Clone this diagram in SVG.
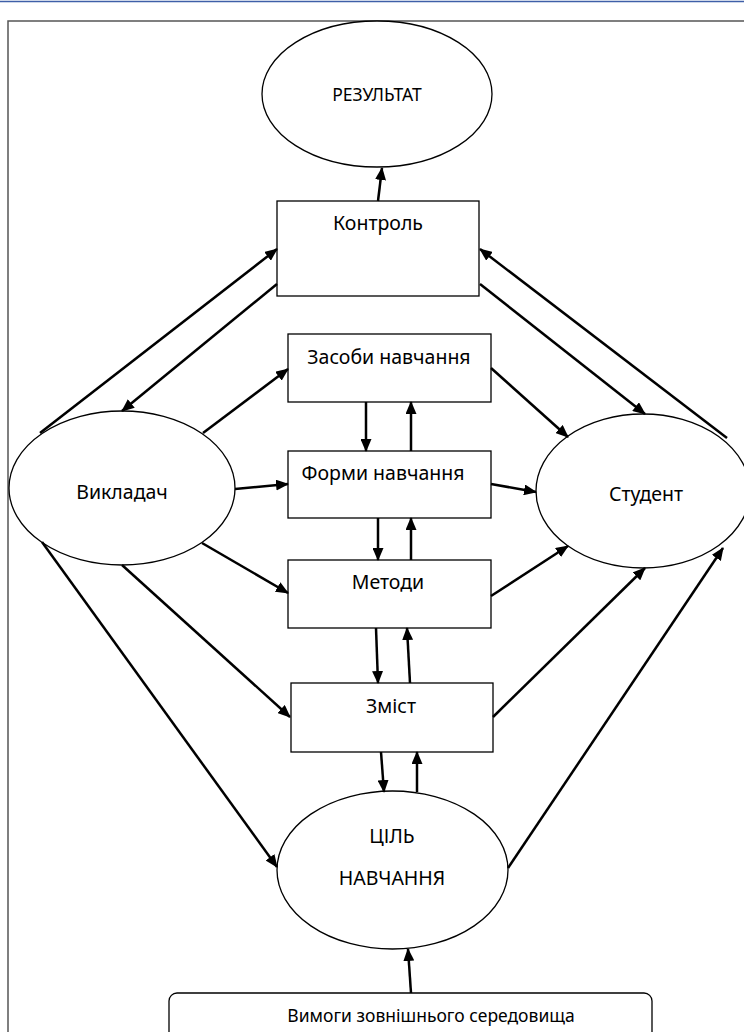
<svg xmlns="http://www.w3.org/2000/svg" width="744" height="1032" viewBox="0 0 744 1032">
<defs>
<marker id="ah" viewBox="0 0 13 11" refX="12" refY="5.5" markerWidth="13" markerHeight="11" markerUnits="userSpaceOnUse" orient="auto">
<path d="M0,0 L13,5.5 L0,11 z" fill="#000"/>
</marker>
<style>
.shape{fill:#fff;stroke:#000;stroke-width:1.3}
.lbl{font-family:"Noto Sans","Open Sans",sans-serif;font-size:19.5px;fill:#000;text-anchor:middle}
.small{font-size:17.5px}
.conn line{stroke:#000;stroke-width:2.5;marker-end:url(#ah)}
</style>
</defs>
<rect width="744" height="1032" fill="#fff"/>
<line x1="0" y1="1.5" x2="744" y2="1.5" stroke="#3f5fa8" stroke-width="1.5"/>
<rect x="8" y="21" width="760" height="1040" fill="none" stroke="#555" stroke-width="1.5"/>
<g id="rezultat"><ellipse class="shape" cx="377" cy="94" rx="115" ry="73"/><text class="lbl small" x="377" y="101">РЕЗУЛЬТАТ</text></g>
<g id="kontrol"><rect class="shape" x="277" y="201" width="202" height="95"/><text class="lbl" x="378" y="230">Контроль</text></g>
<g id="zasoby"><rect class="shape" x="288" y="334" width="203" height="68"/><text class="lbl" x="389" y="364">Засоби навчання</text></g>
<g id="formy"><rect class="shape" x="288" y="451" width="203" height="67"/><text class="lbl" x="383" y="480">Форми навчання</text></g>
<g id="metody"><rect class="shape" x="288" y="560" width="203" height="68"/><text class="lbl" x="388" y="589">Методи</text></g>
<g id="zmist"><rect class="shape" x="291" y="683" width="202" height="69"/><text class="lbl" x="391" y="713">Зміст</text></g>
<g id="vykladach"><ellipse class="shape" cx="122" cy="488" rx="113" ry="77"/><text class="lbl" x="122" y="499">Викладач</text></g>
<g id="student"><ellipse class="shape" cx="643" cy="491" rx="107" ry="77"/><text class="lbl" x="646" y="501">Студент</text></g>
<g id="tsil"><ellipse class="shape" cx="392.5" cy="870" rx="115.5" ry="79"/><text class="lbl" x="392" y="843">ЦІЛЬ</text><text class="lbl" x="392" y="885">НАВЧАННЯ</text></g>
<g id="vymogy"><rect class="shape" x="169" y="993" width="483" height="60" rx="8"/><text class="lbl small" x="431" y="1022">Вимоги зовнішнього середовища</text></g>
<g id="connectors" class="conn">
<line x1="378" y1="201" x2="382" y2="168"/>
<line x1="40" y1="433" x2="277" y2="249"/>
<line x1="277" y1="284" x2="122" y2="411"/>
<line x1="203" y1="433" x2="288" y2="369"/>
<line x1="235" y1="489" x2="288" y2="484"/>
<line x1="202" y1="543" x2="288" y2="593"/>
<line x1="122" y1="565" x2="290" y2="717"/>
<line x1="42" y1="542" x2="277" y2="867"/>
<line x1="366" y1="402" x2="366" y2="451"/>
<line x1="411" y1="451" x2="411" y2="402"/>
<line x1="378" y1="518" x2="378" y2="560"/>
<line x1="411" y1="560" x2="411" y2="518"/>
<line x1="376" y1="628" x2="378" y2="683"/>
<line x1="410" y1="683" x2="407" y2="628"/>
<line x1="381" y1="752" x2="384" y2="792"/>
<line x1="417" y1="792" x2="417" y2="752"/>
<line x1="411" y1="993" x2="408" y2="949"/>
<line x1="491" y1="368" x2="568" y2="437"/>
<line x1="491" y1="484" x2="536" y2="492"/>
<line x1="491" y1="596" x2="568" y2="546"/>
<line x1="493" y1="717" x2="645" y2="568"/>
<line x1="508" y1="868" x2="723" y2="548"/>
<line x1="480" y1="284" x2="645" y2="414"/>
<line x1="727" y1="438" x2="480" y2="249"/>
</g>
</svg>
